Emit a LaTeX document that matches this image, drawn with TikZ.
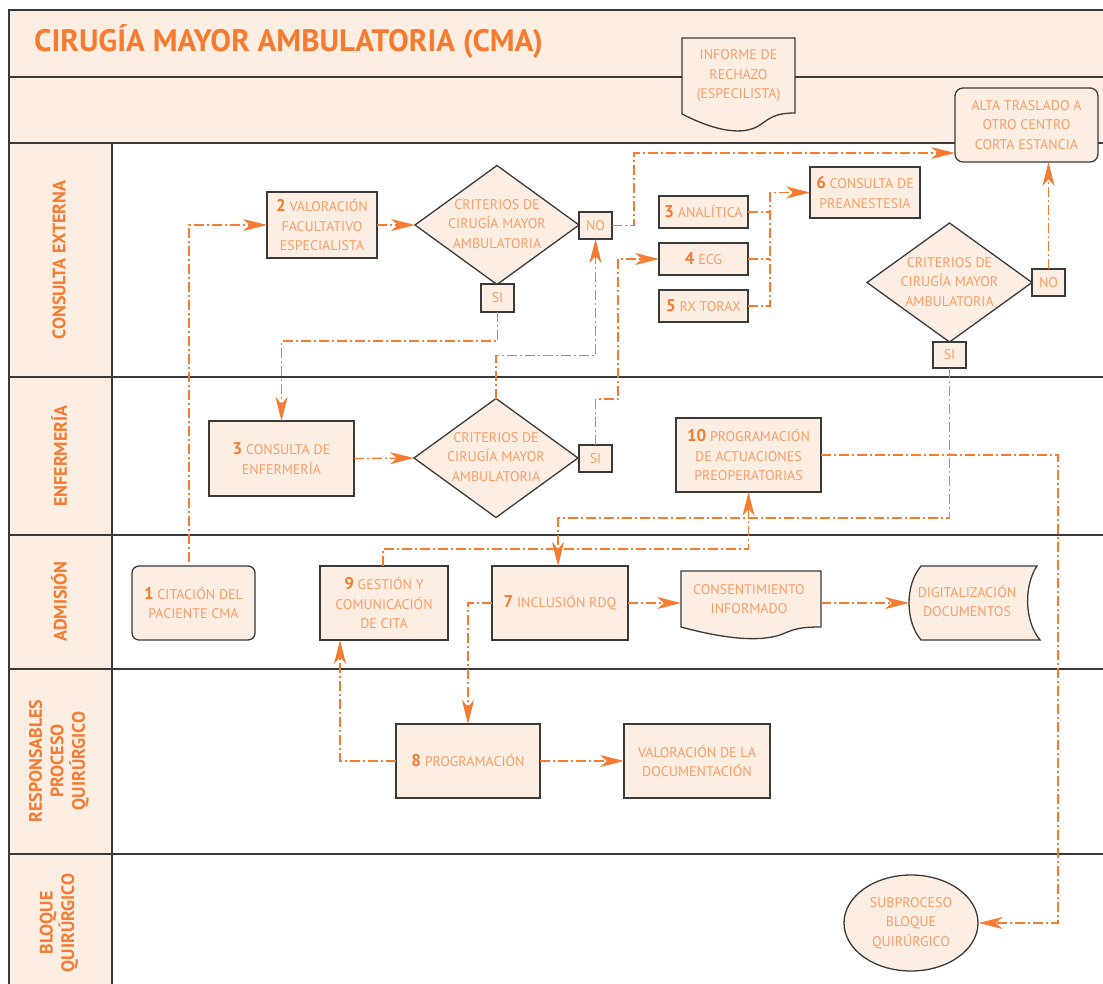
\documentclass[tikz,border=0pt]{standalone}
\usepackage{fontspec}
\setmainfont{PT Sans}
\usetikzlibrary{arrows.meta,shapes.geometric}
\definecolor{orT}{HTML}{F47B30}
\definecolor{orL}{HTML}{F6A069}
\definecolor{peach}{HTML}{FDEEE3}
\definecolor{frm}{HTML}{3A3A3A}
\newcommand{\nmb}[1]{{\fontsize{17}{19.5}\selectfont\bfseries\color{orT}#1}}
\tikzset{
  lanebar/.style={draw=frm, line width=1.5pt},
  bx/.style={draw=frm, line width=1.3pt, fill=peach, text=orL, align=center,
    font=\fontsize{14}{19.5}\selectfont, inner sep=0pt, outer sep=0pt, rectangle},
  rbx/.style={bx, rounded corners=8pt},
  dia/.style={draw=frm, line width=1.3pt, fill=peach, diamond, inner sep=0pt, outer sep=0pt,
    minimum width=164pt, minimum height=119pt},
  txt/.style={text=orL, align=center, font=\fontsize{14}{19.5}\selectfont, inner sep=0pt},
  shp/.style={draw=frm, line width=1.3pt, fill=peach},
  ghost/.style={inner sep=0pt, outer sep=0pt, rectangle},
  flw/.style={draw=orT, line width=1.25pt, dash pattern=on 10pt off 3pt on 2pt off 3pt,
    -{Stealth[length=24pt,width=12pt,inset=7pt]}},
  fln/.style={draw=orT, line width=1.25pt, dash pattern=on 10pt off 3pt on 2pt off 3pt},
  lbl/.style={text=orT, font=\fontsize{18}{21.5}\selectfont\bfseries, rotate=90, align=center, inner sep=0pt},
}
\begin{document}
\begin{tikzpicture}[x=1pt,y=-1pt]
\useasboundingbox (0,0) rectangle (1103,984);
% background bands
\fill[white] (0,0) rectangle (1103,984);
\fill[peach] (9,10) rectangle (1110,143);
\fill[peach] (9,143) rectangle (112,990);
% frame lines
\draw[lanebar] (1110,10) -- (9,10) -- (9,990);
\draw[lanebar] (112,143) -- (112,990);
\foreach \yy in {77,143,377,535,669,854} { \draw[lanebar] (9,\yy) -- (1110,\yy); }
% title
\node[anchor=base west, text=orT, font=\fontsize{31}{31}\selectfont\bfseries, inner sep=0pt] (title) at (34,52) {CIRUGÍA MAYOR AMBULATORIA (CMA)};
% lane labels
\node[lbl] (lce) at (59,260) {CONSULTA EXTERNA};
\node[lbl] (lenf) at (59,456) {ENFERMERÍA};
\node[lbl] (ladm) at (59,601.5) {ADMISIÓN};
\node[lbl] (lrpq) at (59,761) {RESPONSABLES\\PROCESO\\QUIRÚRGICO};
\node[lbl] (lbq) at (59,923) {BLOQUE\\QUIRÚRGICO};

% INFORME DE RECHAZO (document)
\path[shp] (682,38) -- (795,38) -- (795,113) .. controls (775,113) and (770,118) .. (760,125)
  .. controls (748,133) and (725,136) .. (682,114) -- cycle;
\node[txt] (inf) at (738.5,76) {INFORME DE\\RECHAZO\\(ESPECILISTA)};

% CONSULTA EXTERNA
\node[bx, minimum width=110pt, minimum height=66pt] (v2) at (322,225) {\nmb{2} VALORACIÓN\\FACULTATIVO\\ESPECIALISTA};
\node[dia] (d1) at (497,225) {};
\node[txt] (d1t) at (497,224) {CRITERIOS DE\\CIRUGÍA MAYOR\\AMBULATORIA};
\node[bx, minimum width=33pt, minimum height=27pt] (no1) at (595.5,225.5) {NO};
\node[bx, minimum width=33pt, minimum height=28pt] (si1) at (497.5,298) {SI};
\node[bx, minimum width=89pt, minimum height=32pt] (ana) at (703.5,212) {\nmb{3} ANALÍTICA};
\node[bx, minimum width=89pt, minimum height=32pt] (ecg) at (703.5,259) {\nmb{4} ECG};
\node[bx, minimum width=89pt, minimum height=32pt] (rx) at (703.5,306) {\nmb{5} RX TORAX};
\node[bx, minimum width=110pt, minimum height=51pt] (pre) at (865,192.5) {\nmb{6} CONSULTA DE\\PREANESTESIA};
\node[rbx, minimum width=143pt, minimum height=74pt] (alta) at (1026.5,125) {ALTA TRASLADO A\\OTRO CENTRO\\CORTA ESTANCIA};
\node[dia, minimum width=165pt] (d2) at (949.5,282.5) {};
\node[txt] (d2t) at (949.5,282) {CRITERIOS DE\\CIRUGÍA MAYOR\\AMBULATORIA};
\node[bx, minimum width=33pt, minimum height=27pt] (no2) at (1048.5,282.5) {NO};
\node[bx, minimum width=33pt, minimum height=26pt] (si2) at (949.5,355) {SI};

% ENFERMERIA
\node[bx, minimum width=145pt, minimum height=75pt] (e3) at (281.5,458.5) {\nmb{3} CONSULTA DE\\ENFERMERÍA};
\node[dia] (d3) at (496,458) {};
\node[txt] (d3t) at (496,457) {CRITERIOS DE\\CIRUGÍA MAYOR\\AMBULATORIA};
\node[bx, minimum width=33pt, minimum height=27pt] (si3) at (595.5,458.5) {SI};
\node[bx, minimum width=145pt, minimum height=74pt] (p10) at (748.5,455) {\nmb{10} PROGRAMACIÓN\\DE ACTUACIONES\\PREOPERATORIAS};

% ADMISION
\node[rbx, rounded corners=7pt, minimum width=123pt, minimum height=74pt] (c1) at (193.5,603) {\nmb{1} CITACIÓN DEL\\PACIENTE CMA};
\node[bx, minimum width=128pt, minimum height=74pt] (g9) at (384,603) {\nmb{9} GESTIÓN Y\\COMUNICACIÓN\\DE CITA};
\node[bx, minimum width=136pt, minimum height=74pt] (i7) at (560,603) {\nmb{7} INCLUSIÓN RDQ};
% consentimiento (document)
\path[shp] (681,571) -- (821,571) -- (821,627) .. controls (800,627) and (795,629) .. (785,633)
  .. controls (770,640) and (740,643) .. (681,627) -- cycle;
\node[ghost, minimum width=140pt, minimum height=64pt] (cons) at (751,603) {};
\node[txt] (const) at (749,599) {CONSENTIMIENTO\\INFORMADO};
% digitalizacion (stored data)
\path[shp] (921,566) -- (1037,566) .. controls (1024,585) and (1024,621) .. (1040,640)
  -- (921,640) .. controls (905,621) and (905,585) .. (921,566) -- cycle;
\node[ghost, minimum width=131pt, minimum height=74pt] (dig) at (974.5,603) {};
\node[txt] (digt) at (967,601) {DIGITALIZACIÓN\\DOCUMENTOS};

% RESPONSABLES
\node[bx, minimum width=144pt, minimum height=74pt] (p8) at (468,761) {\nmb{8} PROGRAMACIÓN};
\node[bx, minimum width=146pt, minimum height=74pt] (vd) at (697,761) {VALORACIÓN DE LA\\DOCUMENTACIÓN};

% BLOQUE
\node[draw=frm, line width=1.3pt, fill=peach, ellipse, inner sep=0pt, minimum width=134pt, minimum height=96pt,
  text=orL, align=center, font=\fontsize{14}{19.5}\selectfont] (sub) at (911,923) {SUBPROCESO\\BLOQUE\\QUIRÚRGICO};

% connectors
\draw[flw] ([xshift=-4.5pt,yshift=4pt]c1.north) |- (v2.west);
\draw[flw] (v2.east) -- (d1.west);
\draw[flw] (no1.east) -- ++(22,0) |- ([yshift=9pt]alta.south west);
\draw[flw] (si1.south) -- ++(0,29) -| (e3.north);
\draw[flw] (e3.east) -- (d3.west);
\draw[flw] (d3.north) -- ++(0,-43) -| (no1.south);
\draw[flw] (si3.north) -- ++(0,-46) -- ++(22.5,0) |- (ecg.west);
\draw[fln] (ana.east) -- ++(22,0);
\draw[fln] (ecg.east) -- ++(22,0);
\draw[flw] (rx.east) -- ++(22,0) |- (pre.west);
\draw[flw] (no2.north) -- (no2.north |- alta.south);
\draw[flw] (si2.south) -- ++(0,150) -| ([xshift=-2pt]i7.north);
\draw[flw] ([xshift=-1pt]g9.north) -- ++(0,-17) -| (p10.south);
\draw[flw] (p10.east) -- ++(237,0) |- (sub.east);
\draw[flw] (i7.west) -- ++(-24,0) -| (p8.north);
\draw[flw] (p8.west) -| ([xshift=-44pt]g9.south);
\draw[flw] (p8.east) -- (vd.west);
\draw[flw] (i7.east) -- (cons.west);
\draw[flw] (cons.east) -- (dig.west);
\end{tikzpicture}
\end{document}
